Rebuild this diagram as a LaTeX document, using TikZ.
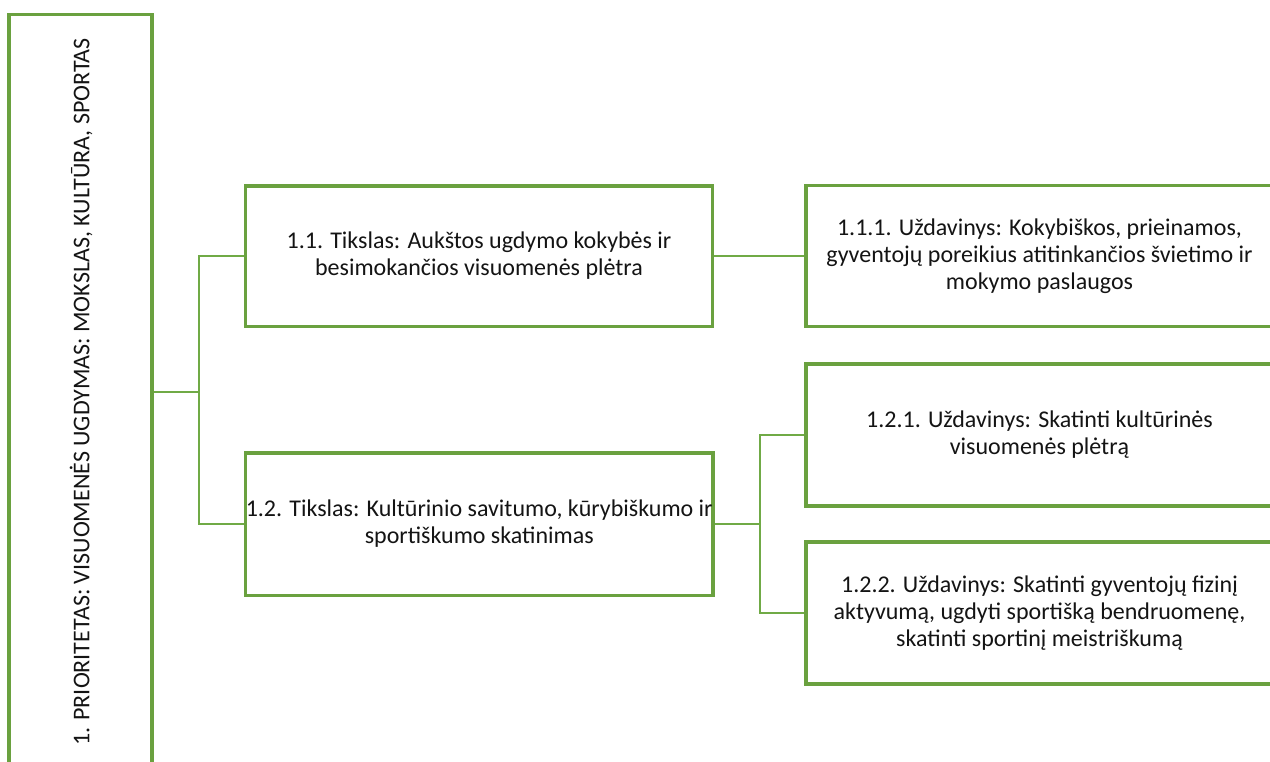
\documentclass[tikz,border=0pt]{standalone}
\usepackage{fontspec}
\setmainfont{Carlito}
\definecolor{boxgreen}{RGB}{106,161,63}
\definecolor{linkgreen}{RGB}{112,170,70}
\definecolor{txt}{RGB}{20,20,20}
\begin{document}
\begin{tikzpicture}[x=1pt,y=1pt,
  goalbox/.style={draw=boxgreen,line width=3.5pt,rectangle,inner sep=0pt,
    align=center,text=txt,font=\fontsize{24}{27}\selectfont},
  link/.style={draw=linkgreen,line width=2.7pt}]
\useasboundingbox (0,0) rectangle (1270,-761);
\clip (0,0) rectangle (1270,-761);
\fill[white] (0,0) rectangle (1270,-761);
% left priority box
\node[goalbox,minimum width=143pt,minimum height=755pt] (prio) at (80.5,-392) {};
\node[rotate=90,inner sep=0pt,text=txt,font=\fontsize{24}{27}\selectfont] (priot) at (81,-392)
  {1. PRIORITETAS: VISUOMENĖS UGDYMAS: MOKSLAS, KULTŪRA, SPORTAS};
% goals
\node[goalbox,minimum width=467pt,minimum height=140.5pt] (g11) at (479,-256)
  {1.1. Tikslas: Aukštos ugdymo kokybės ir\\besimokančios visuomenės plėtra};
\node[goalbox,minimum width=467.5pt,minimum height=142.5pt] (g12) at (479.25,-524)
  {\makebox[0pt]{1.2. Tikslas: Kultūrinio savitumo, kūrybiškumo ir}\\sportiškumo skatinimas};
% tasks
\node[goalbox,minimum width=467pt,minimum height=141pt] (t111) at (1039.5,-256)
  {1.1.1. Uždavinys: Kokybiškos, prieinamos,\\gyventojų poreikius atitinkančios švietimo ir\\mokymo paslaugos};
\node[goalbox,minimum width=467pt,minimum height=142pt] (t121) at (1039.5,-435)
  {1.2.1. Uždavinys: Skatinti kultūrinės\\visuomenės plėtrą};
\node[goalbox,minimum width=467pt,minimum height=142pt] (t122) at (1039.5,-613)
  {1.2.2. Uždavinys: Skatinti gyventojų fizinį\\aktyvumą, ugdyti sportišką bendruomenę,\\skatinti sportinį meistriškumą};
% connectors
\coordinate (j1) at (199,-392);
\coordinate (j2) at (760,-524);
\draw[link] (prio.east) -- (j1);
\draw[link] (g11.west) -| (j1) |- (g12.west);
\draw[link] (g11.east) -- (t111.west);
\draw[link] (g12.east) -- (j2);
\draw[link] (t121.west) -| (j2) |- (t122.west);
\end{tikzpicture}
\end{document}
